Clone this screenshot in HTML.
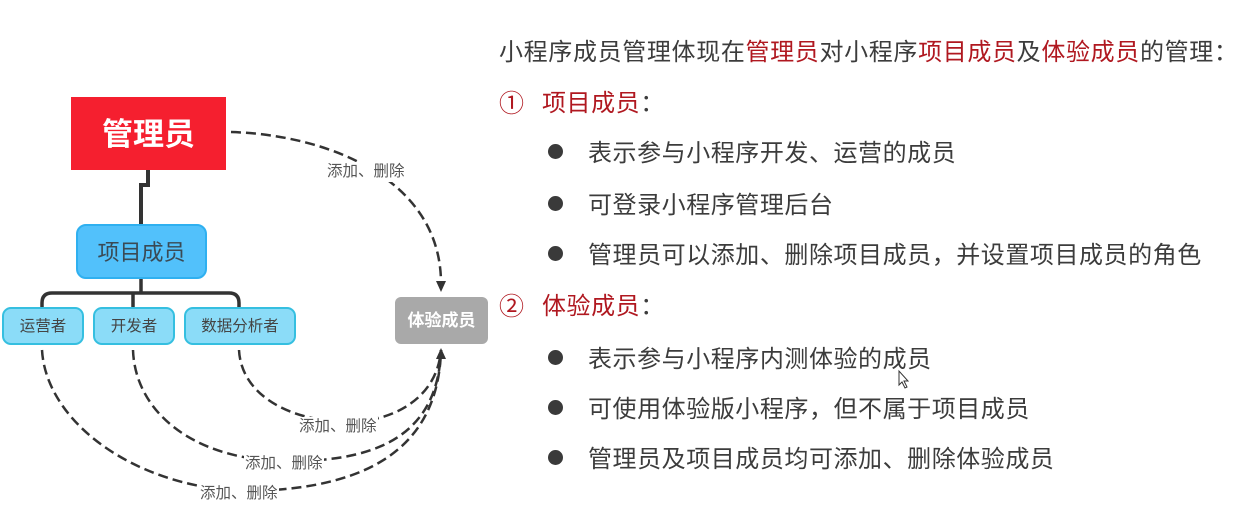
<!DOCTYPE html>
<html><head><meta charset="utf-8">
<style>
html,body{margin:0;padding:0;background:#fff}
#p{position:relative;width:1246px;height:512px;overflow:hidden;background:#fff;font-family:"Liberation Sans","Noto Sans CJK SC",sans-serif;filter:blur(.35px)}
.t{position:absolute;font-size:24px;letter-spacing:.55px;color:#3c3c3c;white-space:nowrap;line-height:32px;height:32px}
.t b{font-weight:400;color:#b01820}
.d{position:absolute;width:15px;height:15px;border-radius:50%;background:#3a3a3a;left:548px}
.b{position:absolute;box-sizing:border-box;display:flex;align-items:center;justify-content:center;white-space:nowrap}
.c{border:2px solid #35bfe0;background:#8bdcf8;border-radius:9px;font-size:15.5px;color:#444;top:307px;height:38px;padding-bottom:3px}
.l{position:absolute;font-size:15.5px;color:#555;white-space:nowrap;line-height:20px;background:#fff;padding:0 1px}
svg{position:absolute;left:0;top:0}
</style></head><body><div id="p">
<svg width="1246" height="512" fill="none">
<path d="M148 170V185H141V224" stroke="#333" stroke-width="4"/>
<path d="M141 279V293M42 308V303Q42 293 52 293H229Q239 293 239 303V308M133 293V308" stroke="#333" stroke-width="3.5"/>
<g stroke="#333" stroke-width="2.5" stroke-dasharray="10 5">
<path d="M231 132C330 135 440 180 441 282"/>
<path d="M239 350C241 390 280 418 340 422C390 424 437 400 441 350"/>
<path d="M133 350C135 410 190 458 280 461C370 463 438 440 441 350"/>
<path d="M42 350C46 420 130 485 240 491C350 491 438 460 441 350"/>
</g>
<path d="M436 281H446L441 292Z" fill="#333"/>
<path d="M436 359H446L441 348Z" fill="#333"/>
<path d="M899 371V385L902 382L905 388L907 387L904 381H908Z" fill="#fff" stroke="#333" stroke-width="1"/>
</svg>
<div class="b" style="left:71px;top:97px;width:155px;height:73px;background:#f51f2f;color:#fff;font-size:31px;font-weight:700;padding-bottom:4px">管理员</div>
<div class="b" style="left:76px;top:224px;width:131px;height:55px;background:#52c1fb;border:2px solid #2fb0f0;border-radius:10px;color:#3a4a55;font-size:22px;padding-bottom:2px">项目成员</div>
<div class="b c" style="left:2px;width:82px">运营者</div>
<div class="b c" style="left:93px;width:82px">开发者</div>
<div class="b c" style="left:184px;width:112px">数据分析者</div>
<div class="b" style="left:395px;top:297px;width:93px;height:47px;background:#a9a9a9;border-radius:6px;color:#fff;font-size:17px;font-weight:700;padding-bottom:4px">体验成员</div>
<div class="l" style="left:326px;top:162px">添加、删除</div>
<div class="l" style="left:298px;top:417px">添加、删除</div>
<div class="l" style="left:244px;top:454px">添加、删除</div>
<div class="l" style="left:199px;top:484px">添加、删除</div>
<div class="t" style="left:499px;top:37px;letter-spacing:.65px">小程序成员管理体现在<b>管理员</b>对小程序<b>项目成员</b>及<b>体验成员</b>的管理：</div>
<div class="t" style="left:499px;top:88px;font-size:25px"><b>①</b></div>
<div class="t" style="left:542px;top:88px"><b>项目成员</b>：</div>
<div class="d" style="top:144px"></div>
<div class="t" style="left:588px;top:138px">表示参与小程序开发、运营的成员</div>
<div class="d" style="top:196px"></div>
<div class="t" style="left:588px;top:190px">可登录小程序管理后台</div>
<div class="d" style="top:246px"></div>
<div class="t" style="left:588px;top:240px">管理员可以添加、删除项目成员，并设置项目成员的角色</div>
<div class="t" style="left:499px;top:291px;font-size:25px"><b>②</b></div>
<div class="t" style="left:542px;top:291px"><b>体验成员</b>：</div>
<div class="d" style="top:350px"></div>
<div class="t" style="left:588px;top:344px">表示参与小程序内测体验的成员</div>
<div class="d" style="top:400px"></div>
<div class="t" style="left:588px;top:394px">可使用体验版小程序，但不属于项目成员</div>
<div class="d" style="top:450px"></div>
<div class="t" style="left:588px;top:444px">管理员及项目成员均可添加、删除体验成员</div>
</div></body></html>
